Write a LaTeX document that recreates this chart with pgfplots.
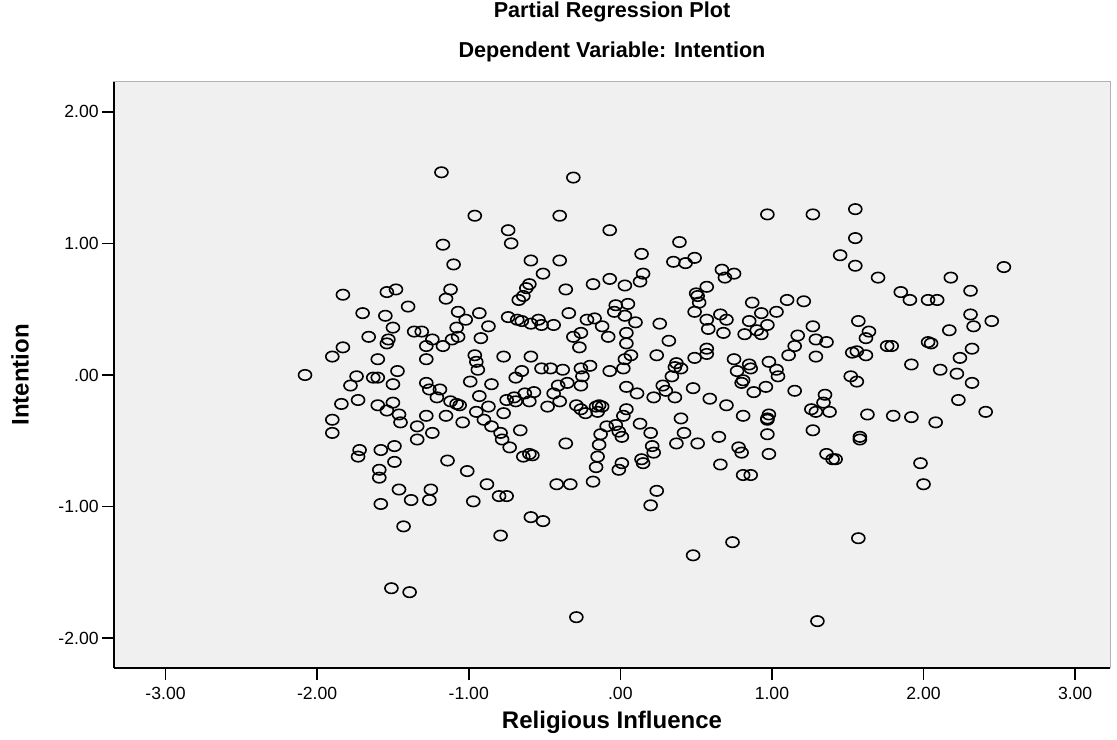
\documentclass[border=0pt]{standalone}
\usepackage{pgfplots}
\pgfplotsset{compat=1.18}
\usepackage{fontspec}
\setmainfont{Liberation Sans}
\definecolor{plotbg}{RGB}{240,240,240}

% partial regression residuals
\pgfplotstableread{
x y
-1.18 1.54
-0.96 1.21
-1.17 0.99
-1.10 0.84
-1.83 0.61
-1.54 0.63
-1.48 0.65
-1.12 0.65
-1.15 0.58
-1.40 0.52
-1.70 0.47
-1.55 0.45
-1.07 0.48
-1.02 0.42
-0.93 0.47
-1.50 0.36
-1.08 0.36
-1.36 0.33
-1.31 0.33
-1.66 0.29
-1.24 0.27
-1.07 0.29
-1.11 0.27
-0.92 0.28
-1.53 0.27
-1.54 0.24
-1.83 0.21
-1.28 0.22
-1.17 0.22
-1.90 0.14
-1.60 0.12
-1.28 0.12
-0.96 0.15
-0.95 0.10
-0.94 0.04
-2.08 0.00
-1.74 -0.01
-1.63 -0.02
-1.60 -0.02
-1.47 0.03
-1.78 -0.08
-1.50 -0.07
-1.28 -0.06
-1.26 -0.11
-1.19 -0.11
-1.21 -0.17
-1.12 -0.20
-1.08 -0.22
-1.06 -0.23
-0.99 -0.05
-0.93 -0.16
-0.95 -0.28
-1.84 -0.22
-1.73 -0.19
-1.60 -0.23
-1.54 -0.27
-1.50 -0.21
-1.46 -0.30
-1.45 -0.36
-1.28 -0.31
-1.15 -0.31
-1.04 -0.36
-1.90 -0.34
-1.90 -0.44
-1.34 -0.39
-1.34 -0.49
-1.24 -0.44
-1.72 -0.57
-1.73 -0.62
-1.58 -0.57
-1.49 -0.54
-1.49 -0.66
-1.59 -0.72
-1.59 -0.78
-1.14 -0.65
-1.01 -0.73
-1.46 -0.87
-1.25 -0.87
-1.26 -0.95
-1.38 -0.95
-1.58 -0.98
-0.97 -0.96
-1.43 -1.15
-1.51 -1.62
-1.39 -1.65
-0.29 -1.84
0.48 -1.37
1.30 -1.87
-0.31 1.50
-0.40 1.21
-0.07 1.10
-0.74 1.10
-0.72 1.00
0.39 1.01
0.14 0.92
0.35 0.86
-0.59 0.87
-0.40 0.87
-0.51 0.77
-0.60 0.69
-0.62 0.66
-0.64 0.60
-0.67 0.57
-0.36 0.65
-0.18 0.69
-0.07 0.73
0.03 0.68
0.15 0.77
0.13 0.71
-0.74 0.44
-0.68 0.42
-0.65 0.41
-0.59 0.39
-0.54 0.42
-0.52 0.38
-0.44 0.38
-0.87 0.37
-0.34 0.47
-0.22 0.42
-0.17 0.43
-0.12 0.37
-0.03 0.53
-0.04 0.48
0.05 0.54
0.03 0.45
0.10 0.40
0.26 0.39
0.32 0.26
-0.31 0.29
-0.26 0.32
-0.08 0.29
0.04 0.32
0.04 0.24
-0.27 0.21
-0.77 0.14
-0.59 0.14
-0.85 -0.07
-0.65 0.03
-0.69 -0.02
-0.52 0.05
-0.46 0.05
-0.38 0.04
-0.26 0.05
-0.20 0.07
-0.25 -0.01
-0.26 -0.08
-0.41 -0.08
-0.35 -0.06
-0.07 0.03
0.02 0.05
0.03 0.12
0.07 0.15
0.24 0.15
0.37 0.09
0.36 0.06
0.40 0.05
0.34 -0.01
0.04 -0.09
0.11 -0.14
0.28 -0.08
0.30 -0.12
0.22 -0.17
0.36 -0.17
-0.87 -0.24
-0.75 -0.19
-0.70 -0.17
-0.69 -0.20
-0.63 -0.14
-0.57 -0.13
-0.60 -0.20
-0.48 -0.24
-0.44 -0.14
-0.40 -0.20
-0.29 -0.23
-0.26 -0.26
-0.23 -0.29
-0.16 -0.24
-0.14 -0.23
-0.15 -0.28
-0.12 -0.24
0.04 -0.26
0.02 -0.31
-0.03 -0.38
-0.09 -0.39
-0.13 -0.45
-0.14 -0.53
-0.15 -0.62
-0.16 -0.70
-0.18 -0.81
-0.01 -0.43
0.01 -0.47
0.13 -0.37
0.20 -0.44
0.21 -0.54
0.22 -0.59
0.14 -0.64
0.15 -0.67
0.01 -0.67
-0.01 -0.72
0.37 -0.52
-0.90 -0.34
-0.85 -0.39
-0.79 -0.44
-0.78 -0.49
-0.73 -0.55
-0.66 -0.42
-0.77 -0.29
-0.36 -0.52
-0.64 -0.62
-0.60 -0.60
-0.58 -0.61
-0.88 -0.83
-0.80 -0.92
-0.75 -0.92
-0.42 -0.83
-0.33 -0.83
0.24 -0.88
0.20 -0.99
-0.59 -1.08
-0.51 -1.11
-0.79 -1.22
0.97 1.22
1.27 1.22
1.55 1.26
1.55 1.04
1.45 0.91
1.55 0.83
1.70 0.74
0.43 0.85
0.49 0.89
0.67 0.80
0.75 0.77
0.69 0.74
0.57 0.67
0.50 0.62
0.51 0.60
0.52 0.55
0.49 0.48
0.57 0.42
0.58 0.35
0.66 0.46
0.70 0.42
0.68 0.32
0.87 0.55
0.93 0.47
0.85 0.41
0.97 0.38
0.90 0.34
0.93 0.31
0.82 0.31
1.03 0.48
1.10 0.57
1.21 0.56
1.27 0.37
1.17 0.30
1.15 0.22
1.29 0.27
1.36 0.25
1.57 0.41
1.64 0.33
1.62 0.28
0.57 0.20
2.53 0.82
2.18 0.74
1.85 0.63
1.91 0.57
2.03 0.57
2.09 0.57
2.31 0.64
2.31 0.46
2.33 0.37
2.45 0.41
2.17 0.34
2.03 0.25
2.05 0.24
1.76 0.22
1.79 0.22
2.32 0.20
0.49 0.13
0.57 0.16
0.75 0.12
0.77 0.03
0.85 0.08
0.86 0.05
0.80 -0.06
0.81 -0.04
0.98 0.10
1.03 0.04
1.04 -0.01
1.11 0.15
1.29 0.14
1.53 0.17
1.56 0.18
1.62 0.15
1.52 -0.01
1.56 -0.05
0.48 -0.10
0.59 -0.18
0.70 -0.23
0.88 -0.13
0.96 -0.09
1.15 -0.12
1.35 -0.15
1.34 -0.21
1.26 -0.26
1.29 -0.28
1.38 -0.28
1.63 -0.30
0.81 -0.31
0.98 -0.30
0.97 -0.33
0.97 -0.34
0.40 -0.33
0.97 -0.45
1.27 -0.42
0.42 -0.44
0.51 -0.52
0.65 -0.47
0.78 -0.55
0.80 -0.59
0.98 -0.60
0.66 -0.68
0.81 -0.76
0.86 -0.76
1.36 -0.60
1.40 -0.64
1.42 -0.64
1.58 -0.47
1.58 -0.49
0.74 -1.27
1.57 -1.24
1.92 0.08
2.11 0.04
2.24 0.13
2.22 0.01
2.32 -0.06
2.23 -0.19
2.41 -0.28
1.80 -0.31
1.92 -0.32
2.08 -0.36
1.98 -0.67
2.00 -0.83
}\resid

\begin{document}
\begin{tikzpicture}
\begin{axis}[
    scale only axis,
    width=498pt, height=293pt,
    xmin=-3.34, xmax=3.23,
    ymin=-2.226, ymax=2.226,
    axis x line*=bottom,
    axis y line*=left,
    axis line style={black, line width=0.8pt},
    axis background/.style={fill=plotbg, draw=gray!60, line width=0.5pt},
    xtick={-3,-2,-1,0,1,2,3},
    xticklabels={-3.00,-2.00,-1.00,.00,1.00,2.00,3.00},
    ytick={-2,-1,0,1,2},
    yticklabels={-2.00,-1.00,.00,1.00,2.00},
    tick align=outside,
    major tick length=6pt,
    tick style={black, line width=0.8pt},
    ticklabel style={font=\fontsize{8.8}{10}\selectfont},
    yticklabel style={inner sep=1.5pt},
    xlabel={Religious Influence},
    ylabel={Intention},
    label style={font=\bfseries\fontsize{12}{14}\selectfont},
    xlabel style={at={(axis description cs:0.5,0)}, anchor=center, yshift=-27pt},
    ylabel style={at={([xshift=-47pt]axis description cs:0,0.5)}, anchor=center},
    title={Dependent Variable: Intention},
    title style={font=\bfseries\fontsize{10.8}{12}\selectfont,
                 at={(axis description cs:0.5,1)}, anchor=center, yshift=9pt},
    extra description/.code={
        \node[font=\bfseries\fontsize{10.8}{12}\selectfont]
            at (axis description cs:0.5,1) [yshift=35pt] {Partial Regression Plot};
    },
    clip=false,
]
\addplot[only marks, mark=o, mark size=2.6pt,
         mark options={xscale=1.25, line width=0.8pt, black}] table[x=x, y=y] {\resid};
\end{axis}
\pgfresetboundingbox
\path ([shift={(-57pt,-36pt)}]current axis.south west)
      rectangle ([shift={(3.5pt,41pt)}]current axis.north east);
\end{tikzpicture}
\end{document}
